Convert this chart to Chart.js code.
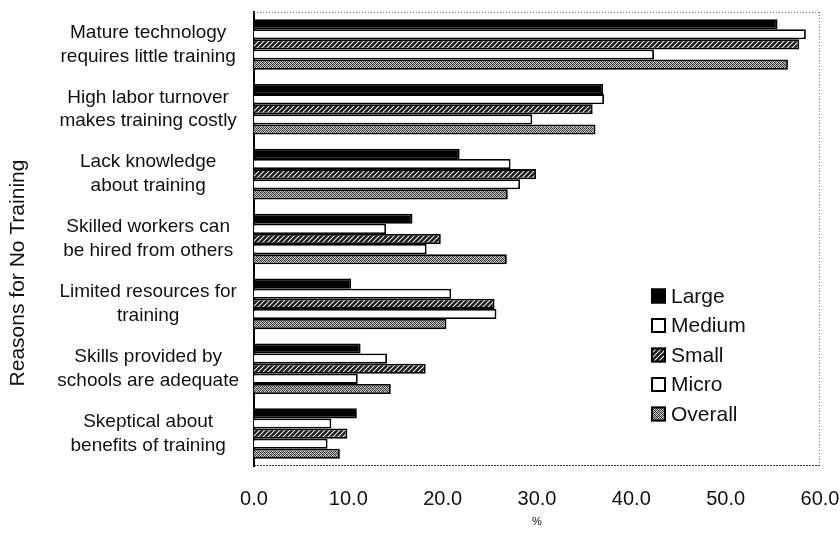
<!DOCTYPE html>
<html>
<head>
<meta charset="utf-8">
<script src="https://cdn.jsdelivr.net/npm/chart.js@4.4.0/dist/chart.umd.min.js"></script>
<style>
  html, body { margin: 0; padding: 0; background: #fff; }
  #wrap { width: 840px; height: 536px; }
</style>
</head>
<body>
<div id="wrap"><canvas id="c" width="840" height="536"></canvas></div>
<script>
// Reasons given by firms for not providing training, by firm size (%)
const categories = [
  ['Mature technology', 'requires little training'],
  ['High labor turnover', 'makes training costly'],
  ['Lack knowledge', 'about training'],
  ['Skilled workers can', 'be hired from others'],
  ['Limited resources for', 'training'],
  ['Skills provided by', 'schools are adequate'],
  ['Skeptical about', 'benefits of training']
];
const seriesNames = ['Large', 'Medium', 'Small', 'Micro', 'Overall'];
const large   = [55.5, 37.0, 21.8, 16.8, 10.3, 11.3, 10.9];
const medium  = [58.5, 37.1, 27.2, 14.0, 20.9, 14.1, 8.2];
const small   = [57.8, 35.9, 29.9, 19.8, 25.5, 18.2, 9.9];
const micro   = [42.4, 29.5, 28.2, 18.3, 25.7, 11.0, 7.8];
const overall = [56.6, 36.2, 26.9, 26.8, 20.4, 14.5, 9.1];
const xTickValues = [0, 10, 20, 30, 40, 50, 60];
const xTitle = '%';
const yTitle = 'Reasons for No Training';

const FONT = '"Liberation Sans", Arial, sans-serif';

// Fill textures for the bars
function hatchPattern() {
  const c = document.createElement('canvas');
  c.width = 5; c.height = 5;
  const g = c.getContext('2d');
  g.fillStyle = '#1a1a1a';
  g.fillRect(0, 0, 5, 5);
  g.strokeStyle = '#eeeeee';
  g.lineWidth = 1.1;
  g.beginPath();
  g.moveTo(-1, 6); g.lineTo(6, -1);
  g.moveTo(-1, 1); g.lineTo(1, -1);
  g.moveTo(4, 6); g.lineTo(6, 4);
  g.stroke();
  return g.createPattern(c, 'repeat');
}
function stipplePattern() {
  const shades = [
    ['#2a2a2a', '#9a9a9a', '#4a4a4a', '#c8c8c8'],
    ['#bbbbbb', '#3c3c3c', '#d0d0d0', '#5a5a5a'],
    ['#505050', '#c4c4c4', '#2e2e2e', '#a8a8a8'],
    ['#d6d6d6', '#666666', '#b2b2b2', '#363636']
  ];
  const c = document.createElement('canvas');
  c.width = 4; c.height = 4;
  const g = c.getContext('2d');
  for (let r = 0; r < 4; r++) for (let k = 0; k < 4; k++) {
    g.fillStyle = shades[r][k];
    g.fillRect(k, r, 1, 1);
  }
  return g.createPattern(c, 'repeat');
}

const fills = ['#000000', '#ffffff', hatchPattern(), '#ffffff', stipplePattern()];
const values = [large, medium, small, micro, overall];

const datasets = seriesNames.map((name, i) => ({
  label: name,
  data: values[i],
  backgroundColor: fills[i],
  borderColor: '#000',
  borderWidth: 1.8,
  borderSkipped: 'start',
  barPercentage: 1.0,
  categoryPercentage: 0.78
}));

// Dotted frame, rotated y title, x title and the in-plot legend
const decorations = {
  id: 'decorations',
  afterDraw(chart) {
    const { ctx, chartArea: a } = chart;
    ctx.save();
    // dotted frame on top, right and bottom
    ctx.strokeStyle = '#777';
    ctx.lineWidth = 1;
    ctx.setLineDash([1, 2]);
    ctx.beginPath();
    ctx.moveTo(a.left, a.top + 0.5); ctx.lineTo(a.right, a.top + 0.5);
    ctx.moveTo(a.right - 0.5, a.top); ctx.lineTo(a.right - 0.5, a.bottom);
    ctx.stroke();
    ctx.strokeStyle = '#333';
    ctx.setLineDash([2, 1]);
    ctx.beginPath();
    ctx.moveTo(a.left, a.bottom - 0.5); ctx.lineTo(a.right, a.bottom - 0.5);
    ctx.stroke();
    ctx.setLineDash([]);

    // y axis title
    ctx.fillStyle = '#111';
    ctx.font = '21px ' + FONT;
    ctx.textAlign = 'center';
    ctx.textBaseline = 'middle';
    ctx.save();
    ctx.translate(18, 273);
    ctx.rotate(-Math.PI / 2);
    ctx.fillText(yTitle, 0, 0);
    ctx.restore();

    // x axis title
    ctx.font = '11px ' + FONT;
    ctx.fillText(xTitle, (a.left + a.right) / 2, 522);

    // legend
    const lx = 651, ly0 = 296, step = 29.5, box = 15;
    ctx.font = '21px ' + FONT;
    ctx.textAlign = 'left';
    chart.data.datasets.forEach((ds, i) => {
      const cy = ly0 + i * step;
      ctx.fillStyle = ds.backgroundColor;
      ctx.fillRect(lx, cy - box / 2, box, box);
      ctx.strokeStyle = '#000';
      ctx.lineWidth = 2;
      ctx.strokeRect(lx + 1, cy - box / 2 + 1, box - 2, box - 2);
      ctx.fillStyle = '#111';
      ctx.fillText(ds.label, lx + box + 5, cy + 1);
    });
    ctx.restore();
  }
};

new Chart(document.getElementById('c'), {
  type: 'bar',
  data: { labels: categories, datasets },
  options: {
    responsive: false,
    animation: false,
    indexAxis: 'y',
    layout: { padding: { top: 12, right: 20, left: 0, bottom: 0 } },
    plugins: { legend: { display: false }, tooltip: { enabled: false } },
    scales: {
      x: {
        min: 0, max: 60,
        afterFit(s) { s.height = 70; s.paddingLeft = 0; s.paddingRight = 0; },
        afterBuildTicks(s) { s.ticks = xTickValues.map(v => ({ value: v })); },
        grid: { display: false, drawTicks: false },
        border: { display: false },
        ticks: {
          padding: 21,
          color: '#111',
          font: { family: FONT, size: 20 },
          callback: v => Number(v).toFixed(1)
        }
      },
      y: {
        afterFit(s) { s.width = 254; s.paddingTop = 0; s.paddingBottom = 0; },
        grid: { display: false, drawTicks: false },
        border: { display: true, color: '#000', width: 2 },
        ticks: {
          crossAlign: 'center',
          padding: 15,
          color: '#111',
          font: { family: FONT, size: 19, lineHeight: 1.26 }
        }
      }
    }
  },
  plugins: [decorations]
});
</script>
</body>
</html>
